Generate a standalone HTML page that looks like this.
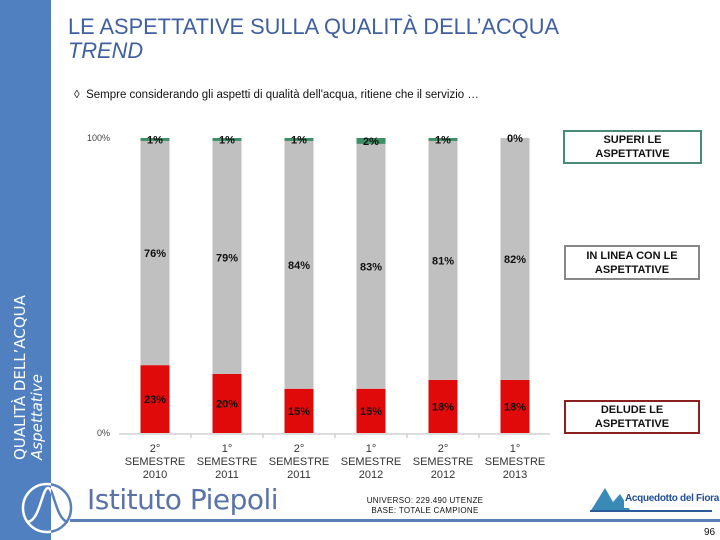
<!DOCTYPE html>
<html><head><meta charset="utf-8">
<style>
body{margin:0;width:720px;height:540px;overflow:hidden;background:#fff;font-family:"Liberation Sans",sans-serif;position:relative}
.abs{position:absolute}
.box{position:absolute;font-weight:bold;font-size:11px;text-align:center;line-height:14px;color:#111;box-sizing:border-box;display:flex;align-items:center;justify-content:center;background:#fff}
</style></head><body>
<div class="abs" style="left:0;top:0;width:51px;height:540px;background:#5080bf"></div>
<div class="abs" style="left:12px;top:460px;transform-origin:0 0;transform:rotate(-90deg);color:#fff;font-size:15px;line-height:17px;white-space:nowrap;font-family:'DejaVu Sans',sans-serif">QUALITÀ DELL’ACQUA<br><i>Aspettative</i></div>
<div class="abs" style="left:68px;top:15px;color:#3f60a0;font-size:21.8px;line-height:24px">LE ASPETTATIVE SULLA QUALITÀ DELL’ACQUA<br><i>TREND</i></div>
<div class="abs" style="left:74px;top:89px;font-size:11.5px;color:#111">&#9674;&nbsp;&nbsp;Sempre considerando gli aspetti di qualità dell'acqua, ritiene che il servizio …</div>
<svg class="abs" style="left:0;top:0" width="720" height="540">
<g id="plot"></g>
</svg>
<div class="box" style="left:563px;top:130px;width:139px;height:34px;border:2px solid #4a8a78">SUPERI LE<br>ASPETTATIVE</div>
<div class="box" style="left:564px;top:245px;width:136px;height:35px;border:2px solid #888">IN LINEA CON LE<br>ASPETTATIVE</div>
<div class="box" style="left:564px;top:400px;width:136px;height:34px;border:2px solid #8a2020">DELUDE LE<br>ASPETTATIVE</div>
<svg class="abs" style="left:0;top:0" width="720" height="540">
<defs>
<clipPath id="cl"><rect x="0" y="0" width="51" height="540"/></clipPath>
<clipPath id="cr"><rect x="51" y="0" width="669" height="540"/></clipPath>
</defs>
<g clip-path="url(#cl)" stroke="#fff" stroke-width="2.5" fill="none">
<circle cx="47" cy="508" r="24"/>
<path d="M28 522 C40 520 42 488 48 488 C54 488 56 520 68 522"/>
</g>
<g clip-path="url(#cr)" stroke="#5a80b8" stroke-width="2.5" fill="none">
<circle cx="47" cy="508" r="24"/>
<path d="M28 522 C40 520 42 488 48 488 C54 488 56 520 68 522"/>
</g>
<rect x="70" y="519" width="650" height="3" fill="#5a80b8"/>
<path d="M590 512 L605 488 L613 502 L620 494 L630 510 Z" fill="#3a8ab8"/>
<rect x="590" y="510" width="122" height="2" fill="#2a5a9a"/>
<rect x="624" y="492" width="88" height="16" fill="#fff"/>
</svg>
<div class="abs" style="left:87px;top:483px;font-size:28px;color:#5a73a8;font-family:'DejaVu Sans',sans-serif;letter-spacing:-0.5px">Istituto Piepoli</div>
<div class="abs" style="left:625px;top:493px;font-size:10px;font-weight:bold;color:#1f4e96;letter-spacing:-0.3px">Acquedotto del Fiora</div>
<div class="abs" style="left:340px;top:496px;width:170px;text-align:center;font-size:8px;line-height:10px;color:#111;letter-spacing:0.3px">UNIVERSO: 229.490 UTENZE<br>BASE: TOTALE CAMPIONE</div>
<div class="abs" style="left:704px;top:527px;font-size:10px;color:#111">96</div>
<script>
const categories=[["2°","SEMESTRE","2010"],["1°","SEMESTRE","2011"],["2°","SEMESTRE","2011"],["1°","SEMESTRE","2012"],["2°","SEMESTRE","2012"],["1°","SEMESTRE","2013"]];
const deludeValues=[23,20,15,15,18,18];
const inLineaValues=[76,79,84,83,81,82];
const superiValues=[1,1,1,2,1,0];
const yTickLabels=["0%","100%"];
const yTickValues=[0,100];
const NS="http://www.w3.org/2000/svg";
const g=document.getElementById('plot');
const y0=433,y1=138,x0=119,step=72,bw=29;
const yScale=v=>y0-(y0-y1)*v/100;
const xCenter=i=>x0+36+i*step;
function mk(tag,attrs){const e=document.createElementNS(NS,tag);for(const k in attrs)e.setAttribute(k,attrs[k]);g.appendChild(e);return e;}
const ax=mk('line',{x1:x0,x2:550,y1:434,y2:434,stroke:'#bbb','stroke-width':1});


yTickLabels.forEach((t,i)=>{const e=mk('text',{x:110,y:yScale(yTickValues[i])+3,'text-anchor':'end','font-size':9,fill:'#444'});e.textContent=t;

});
const series=[[deludeValues,'#e00a0a','delude'],[inLineaValues,'#c0c0c0','in-linea'],[superiValues,'#3e8e66','superi']];
categories.forEach((c,i)=>{
  let acc=0;const cx=xCenter(i);
  series.forEach(([vals,col,nm])=>{
    const v=vals[i];const top=yScale(acc+v),bot=yScale(acc);
    const r=mk('rect',{x:cx-bw/2,y:top,width:bw,height:Math.max(bot-top,0),fill:col});
    
    
    const t=mk('text',{x:cx,y:(top+bot)/2+4,'text-anchor':'middle','font-size':11,'font-weight':'bold',fill:'#111'});
    t.textContent=v+'%';
    
    
    acc+=v;
  });
  c.forEach((ln,k)=>{const t=mk('text',{x:cx,y:452+k*13,'text-anchor':'middle','font-size':11,fill:'#333'});t.textContent=ln;
  
  });
  if(i>0){const tk=mk('line',{x1:cx-36,x2:cx-36,y1:434,y2:438,stroke:'#bbb'});}
});
</script>
</body></html>
